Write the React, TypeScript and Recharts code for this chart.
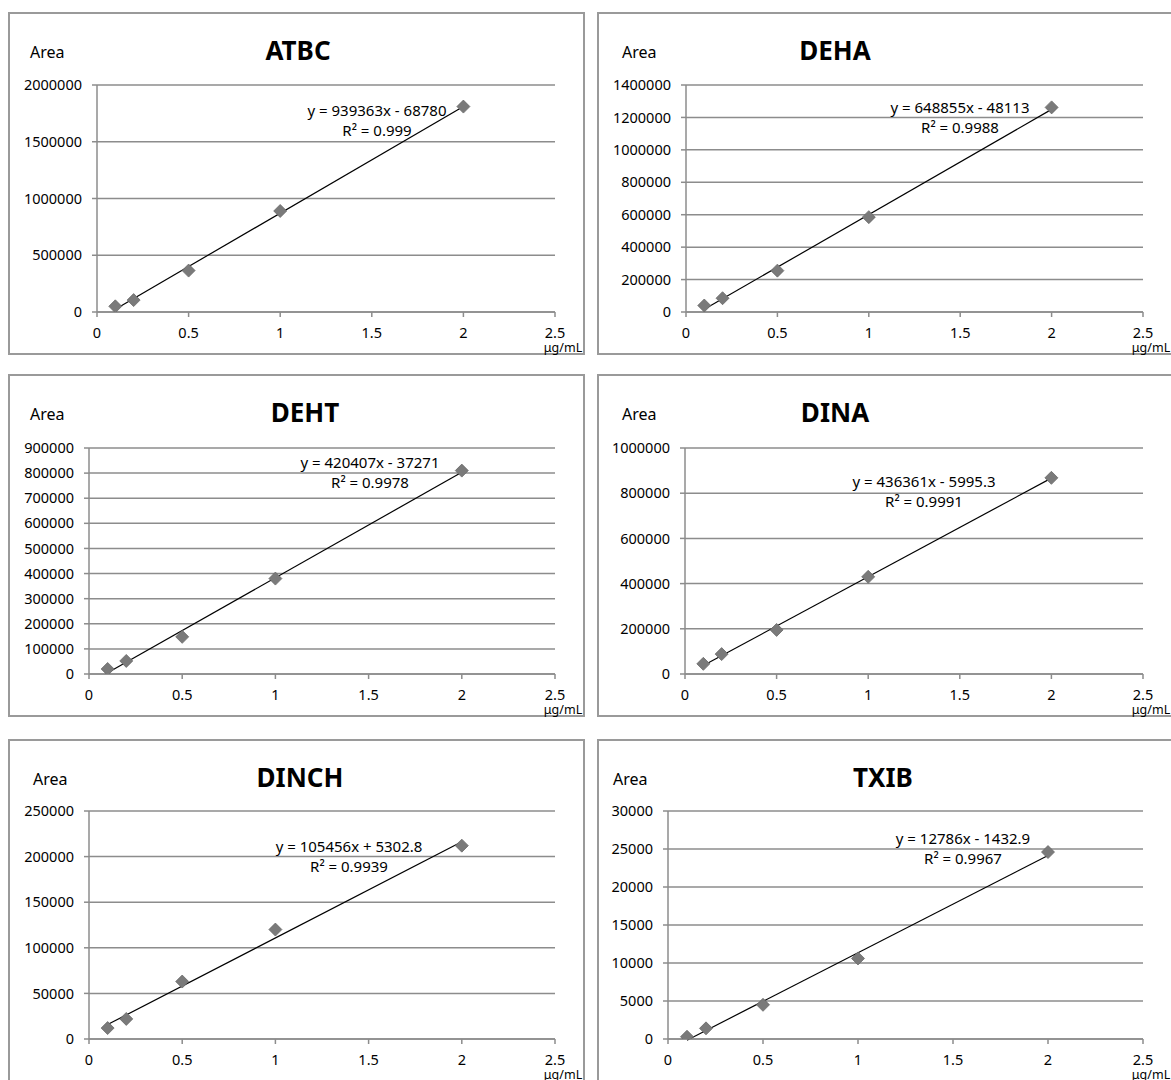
import { CartesianGrid, ReferenceLine, Scatter, ScatterChart, XAxis, YAxis } from "recharts";

// concentrations (µg/mL), same for every compound
const CONC = [0.1, 0.2, 0.5, 1, 2];

const ATBC_AREA = [50000, 105000, 365000, 890000, 1810000];
const DEHA_AREA = [40000, 85000, 255000, 585000, 1262000];
const DEHT_AREA = [20000, 52000, 148000, 380000, 810000];
const DINA_AREA = [45000, 88000, 195000, 430000, 868000];
const DINCH_AREA = [12000, 22000, 63000, 120000, 212000];
const TXIB_AREA = [300, 1400, 4500, 10600, 24600];

const NAMES = ["ATBC", "DEHA", "DEHT", "DINA", "DINCH", "TXIB"];
const AREAS = [ATBC_AREA, DEHA_AREA, DEHT_AREA, DINA_AREA, DINCH_AREA, TXIB_AREA];

// linear trendlines as printed on the chart
const SLOPES = [939363, 648855, 420407, 436361, 105456, 12786];
const INTERCEPTS = [-68780, -48113, -37271, -5995.3, 5302.8, -1432.9];
const EQUATIONS = [
  "y = 939363x - 68780",
  "y = 648855x - 48113",
  "y = 420407x - 37271",
  "y = 436361x - 5995.3",
  "y = 105456x + 5302.8",
  "y = 12786x - 1432.9",
];
const R2 = ["0.999", "0.9988", "0.9978", "0.9991", "0.9939", "0.9967"];

const X_TICKS = [0, 0.5, 1, 1.5, 2, 2.5];
const Y_TICKS = [
  [0, 500000, 1000000, 1500000, 2000000],
  [0, 200000, 400000, 600000, 800000, 1000000, 1200000, 1400000],
  [0, 100000, 200000, 300000, 400000, 500000, 600000, 700000, 800000, 900000],
  [0, 200000, 400000, 600000, 800000, 1000000],
  [0, 50000, 100000, 150000, 200000, 250000],
  [0, 5000, 10000, 15000, 20000, 25000, 30000],
];

// panel boxes and plot edges, relative to each panel
const LAYOUT = [
  { left: 8, top: 12, w: 577, h: 343, pl: 89, pr: 547, pt: 73, pb: 300, titleX: 290, areaX: 22, eqX: 369, eqY: 88 },
  { left: 597, top: 12, w: 580, h: 343, pl: 89, pr: 546, pt: 73, pb: 300, titleX: 238, areaX: 25, eqX: 363, eqY: 85 },
  { left: 8, top: 374, w: 577, h: 343, pl: 81, pr: 547, pt: 74, pb: 300, titleX: 297, areaX: 22, eqX: 362, eqY: 78 },
  { left: 597, top: 374, w: 580, h: 343, pl: 88, pr: 546, pt: 74, pb: 300, titleX: 238, areaX: 25, eqX: 327, eqY: 97 },
  { left: 8, top: 739, w: 577, h: 345, pl: 81, pr: 547, pt: 72, pb: 300, titleX: 292, areaX: 25, eqX: 341, eqY: 97 },
  { left: 597, top: 739, w: 580, h: 345, pl: 71, pr: 546, pt: 72, pb: 300, titleX: 286, areaX: 16, eqX: 366, eqY: 89 },
];

const FONT = "'Noto Sans', sans-serif";
const GRID = "#8c8c8c";

const Diamond = (props: any) => {
  const { cx, cy } = props;
  const r = 6.5;
  return (
    <polygon
      points={`${cx},${cy - r} ${cx + r},${cy} ${cx},${cy + r} ${cx - r},${cy}`}
      fill="#7a7a7a"
      stroke="#6a6a6a"
      strokeWidth={0.8}
    />
  );
};

const Panel = ({ index }: { index: number }) => {
  const lay = LAYOUT[index];
  const data = CONC.map((x, i) => ({ x, y: AREAS[index][i] }));
  const yTicks = Y_TICKS[index];
  const yMax = yTicks[yTicks.length - 1];
  const x0 = CONC[0];
  const x1 = CONC[CONC.length - 1];
  const seg = [
    { x: x0, y: SLOPES[index] * x0 + INTERCEPTS[index] },
    { x: x1, y: SLOPES[index] * x1 + INTERCEPTS[index] },
  ];
  const tickStyle = { fill: "#000", fontSize: 14.5, fontFamily: FONT };

  return (
    <div style={{ position: "absolute", left: lay.left, top: lay.top, width: lay.w, height: lay.h }}>
      <div style={{ position: "absolute", inset: 0, border: "2px solid #9a9a9a", boxSizing: "border-box" }} />
      <ScatterChart
        width={lay.w}
        height={lay.h}
        margin={{ top: lay.pt, right: lay.w - lay.pr, bottom: lay.h - lay.pb - 30, left: 0 }}
      >
        <CartesianGrid vertical={false} stroke={GRID} strokeWidth={1.5} />
        <XAxis
          type="number"
          dataKey="x"
          domain={[0, 2.5]}
          ticks={X_TICKS}
          height={30}
          tick={tickStyle}
          tickSize={5}
          tickMargin={11}
          stroke={GRID}
          strokeWidth={1.5}
        />
        <YAxis
          type="number"
          dataKey="y"
          domain={[0, yMax]}
          ticks={yTicks}
          width={lay.pl}
          tick={tickStyle}
          tickSize={5}
          tickMargin={10}
          stroke={GRID}
          strokeWidth={1.5}
          allowDataOverflow
        />
        <ReferenceLine segment={seg} stroke="#000" strokeWidth={1.2} ifOverflow="visible" />
        <Scatter data={data} shape={<Diamond />} isAnimationActive={false} />
      </ScatterChart>
      <div
        style={{
          position: "absolute",
          left: lay.titleX,
          top: 38,
          transform: "translate(-50%, -50%)",
          fontFamily: FONT,
          fontWeight: 700,
          fontSize: 26,
          color: "#000",
          whiteSpace: "nowrap",
        }}
      >
        {NAMES[index]}
      </div>
      <div
        style={{
          position: "absolute",
          left: lay.areaX,
          top: 40,
          transform: "translateY(-50%)",
          fontFamily: FONT,
          fontSize: 16,
          color: "#000",
        }}
      >
        Area
      </div>
      <div
        style={{
          position: "absolute",
          left: lay.eqX,
          top: lay.eqY,
          transform: "translateX(-50%)",
          fontFamily: FONT,
          fontSize: 15,
          lineHeight: "20px",
          color: "#000",
          textAlign: "center",
          whiteSpace: "nowrap",
        }}
      >
        <div>{EQUATIONS[index]}</div>
        <div>R² = {R2[index]}</div>
      </div>
      <div
        style={{
          position: "absolute",
          left: lay.pr + 8,
          top: 335,
          transform: "translate(-50%, -50%)",
          fontFamily: FONT,
          fontSize: 12.5,
          color: "#000",
          whiteSpace: "nowrap",
        }}
      >
        μg/mL
      </div>
    </div>
  );
};

export default function App() {
  return (
    <div
      style={{
        position: "absolute",
        left: 0,
        top: 0,
        width: 1171,
        height: 1080,
        overflow: "hidden",
        background: "#fff",
      }}
    >
      {NAMES.map((_n, i) => (
        <Panel key={NAMES[i]} index={i} />
      ))}
    </div>
  );
}
